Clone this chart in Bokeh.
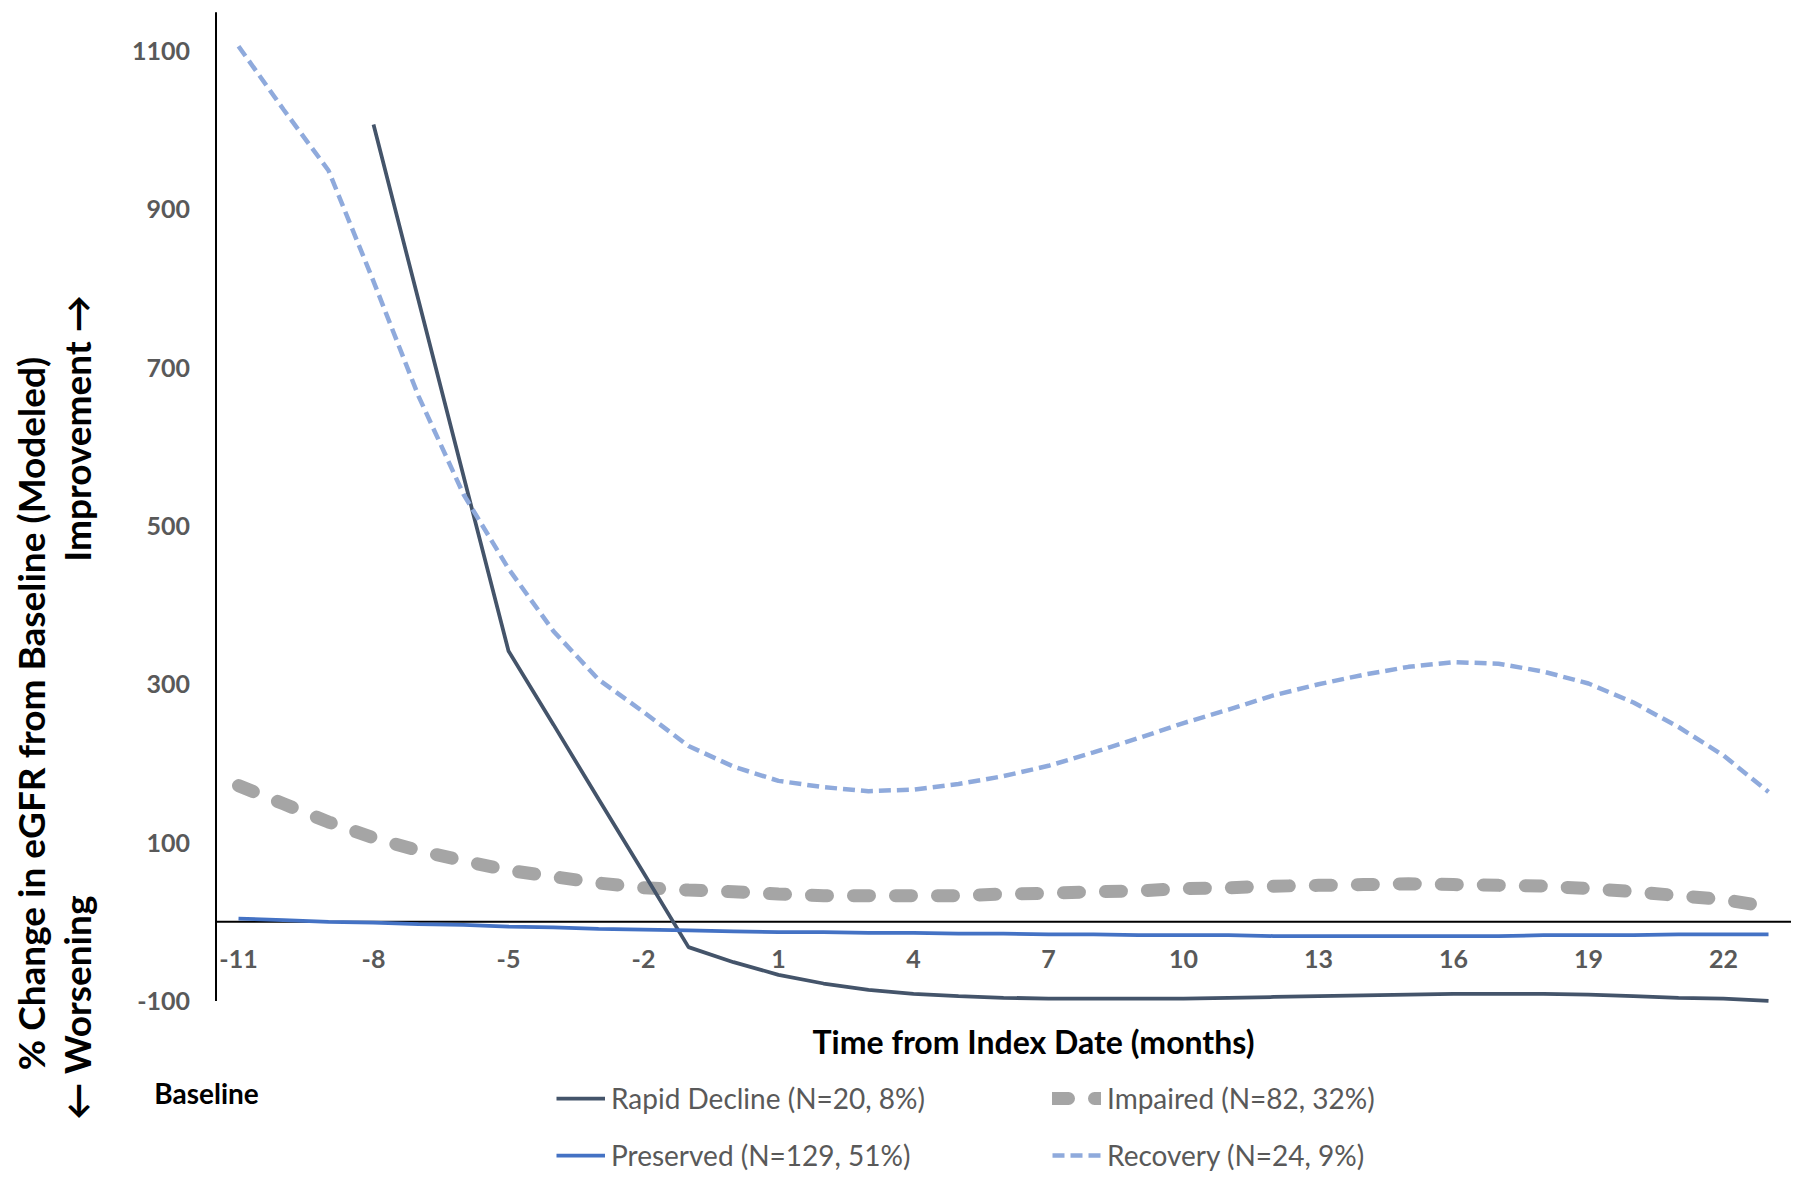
import math
from bokeh.plotting import figure
from bokeh.models import Range1d, Label, Legend, LegendItem
from bokeh.embed import file_html
from bokeh.resources import INLINE
from bokeh.core.properties import value

# ---------------- data ----------------
months = list(range(-11, 24))
rapid_months = list(range(-8, 24))

rapid_decline = [1007, 785, 563, 342, 249, 155, 62, -32, -51, -67, -78, -86, -91, -94, -96, -97,
                 -97, -97, -97, -96, -95, -94, -93, -92, -91, -91, -91, -92, -94, -96, -97, -100]
impaired = [172, 149, 126, 106, 90, 77, 65, 57, 49, 43, 40, 38, 35, 33, 33, 33, 33, 35, 36, 38,
            39, 42, 43, 45, 46, 47, 48, 47, 46, 45, 42, 38, 33, 28, 19]
preserved = [4, 2, 0, -1, -3, -4, -6, -7, -9, -10, -11, -12, -13, -13, -14, -14, -15, -15, -16, -16,
             -17, -17, -17, -18, -18, -18, -18, -18, -18, -17, -17, -17, -16, -16, -16]
recovery = [1106, 1026, 949, 809, 664, 540, 446, 367, 306, 265, 222, 196, 178, 170, 165, 167, 174,
            184, 197, 214, 232, 251, 268, 286, 300, 312, 322, 328, 326, 316, 301, 277, 246, 210, 164]

x_ticks = list(range(-11, 23, 3))
x_tick_labels = [str(t) for t in x_ticks]
y_ticks = [-100, 100, 300, 500, 700, 900, 1100]
y_tick_labels = [str(t) for t in y_ticks]

# axis extents (data units)
X_AXIS_MIN, X_AXIS_MAX = -11.5, 23.5
Y_AXIS_MIN, Y_AXIS_MAX = -100, 1149
X_CROSS = 0

labels = {
    "rapid": "Rapid Decline (N=20, 8%)",
    "impaired": "Impaired (N=82, 32%)",
    "preserved": "Preserved (N=129, 51%)",
    "recovery": "Recovery (N=24, 9%)",
}

FONT = "Lato"
GRAY_TXT = "#595959"
W, H = 1796, 1180

p = figure(width=W, height=H,
           x_range=Range1d(-16.289, 23.622), y_range=Range1d(-326.8, 1163.7),
           output_backend="svg", toolbar_location=None,
           min_border=0, min_border_left=0, min_border_right=0,
           min_border_top=0, min_border_bottom=0)
p.xaxis.visible = False
p.yaxis.visible = False
p.xgrid.visible = False
p.ygrid.visible = False
p.outline_line_color = None
p.background_fill_color = "white"
p.border_fill_color = "white"

# ---------------- axes (drawn through the data scales) ----------------
p.segment(x0=[X_AXIS_MIN], y0=[Y_AXIS_MIN], x1=[X_AXIS_MIN], y1=[Y_AXIS_MAX],
          line_color="black", line_width=2)
p.segment(x0=[X_AXIS_MIN], y0=[X_CROSS], x1=[X_AXIS_MAX], y1=[X_CROSS],
          line_color="black", line_width=2)

p.text(x=[X_AXIS_MIN] * len(y_ticks), y=y_ticks, text=y_tick_labels,
       x_offset=-26, text_align="right", text_baseline="middle",
       text_font=value(FONT), text_font_size="25px", text_font_style="bold",
       text_color=GRAY_TXT)
p.text(x=x_ticks, y=[X_CROSS] * len(x_ticks), text=x_tick_labels,
       y_offset=37, text_align="center", text_baseline="middle",
       text_font=value(FONT), text_font_size="25px", text_font_style="bold",
       text_color=GRAY_TXT)

# ---------------- series ----------------
r_imp = p.line(months, impaired, line_color="#A5A5A5", line_width=13,
               line_dash="16 26", line_cap="round")
r_rapid = p.line(rapid_months, rapid_decline, line_color="#44546A", line_width=3.75)
r_pres = p.line(months, preserved, line_color="#4472C4", line_width=3.75)
r_rec = p.line(months, recovery, line_color="#8FAADC", line_width=4.5, line_dash="12 6")

legend = Legend(items=[
    LegendItem(label=labels["rapid"], renderers=[r_rapid]),
    LegendItem(label=labels["preserved"], renderers=[r_pres]),
    LegendItem(label=labels["impaired"], renderers=[r_imp]),
    LegendItem(label=labels["recovery"], renderers=[r_rec]),
], nrows=2, ncols=2, orientation="vertical",
    location=(556, 8), padding=0, margin=0, spacing=23,
    glyph_width=49, glyph_height=34, label_height=34, label_width=418, label_standoff=6,
    label_text_font=FONT, label_text_font_size="28px", label_text_color=GRAY_TXT,
    border_line_color=None, background_fill_alpha=0)
p.add_layout(legend, "center")

# ---------------- texts ----------------
def lab(text, x, y, size, angle=0.0, color="black", bold=True, align="center"):
    # x, y in canvas pixels from top-left
    p.add_layout(Label(x=x, y=H - y, x_units="screen", y_units="screen", text=text,
                       angle=angle, text_align=align, text_baseline="middle",
                       text_font=FONT, text_font_size=size,
                       text_font_style="bold" if bold else "normal", text_color=color))

lab("% Change in eGFR from Baseline (Modeled)", 30, 713, "37px", angle=math.pi / 2)
lab("\u2190 Worsening", 76, 1007, "37px", angle=math.pi / 2)
lab("Improvement \u2192", 76, 428, "37px", angle=math.pi / 2)
lab("Baseline", 206, 1092, "28px")
lab("Time from Index Date (months)", 1033, 1041, "32px")

open("out.html", "w").write(file_html(p, INLINE))
